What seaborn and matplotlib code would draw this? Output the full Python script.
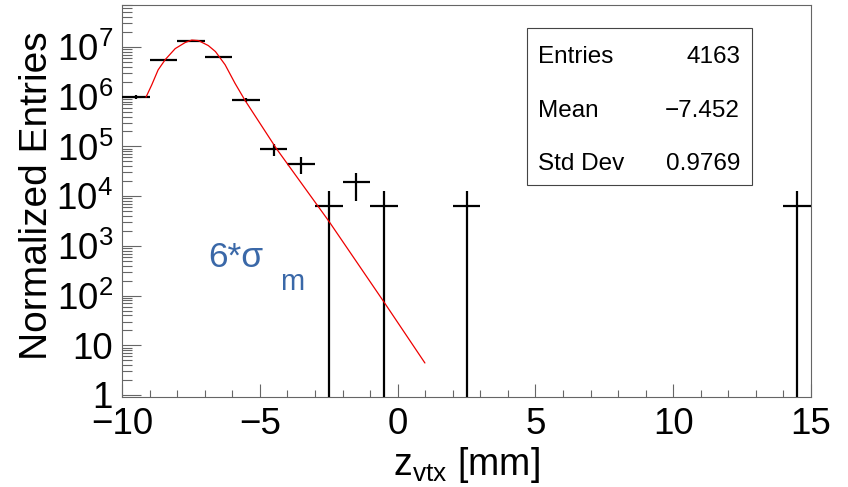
import numpy as np
import matplotlib
matplotlib.use("Agg")
import matplotlib.pyplot as plt
import seaborn as sns
from matplotlib.ticker import MultipleLocator, LogLocator, NullFormatter, FuncFormatter
from matplotlib.patches import Rectangle

# ---- data ----
bin_centers = [-9.5, -8.5, -7.5, -6.5, -5.5, -4.5, -3.5, -2.5, -1.5, -0.5, 2.5, 14.5]
bin_counts = [158, 881, 2060, 998, 136, 14, 7, 1, 3, 1, 1, 1]
norm_per_entry = 6310
bin_width = 1.0

fit_x = [-9.13, -8.92, -8.69, -8.43, -8.07, -7.71, -7.47, -7.23, -6.87, -6.61,
         -6.26, -5.90, -5.54, -4.39, -2.49, -0.48, 0.99]
fit_y = [9.8e5, 1.74e6, 3.47e6, 5.6e6, 9.3e6, 1.23e7, 1.38e7, 1.35e7, 1.07e7, 8.1e6,
         4.4e6, 1.86e6, 8.5e5, 8.9e4, 3.1e3, 72, 4.4]

stats_labels = ["Entries", "Mean", "Std Dev"]
stats_values = ["4163", "\u22127.452", "0.9769"]

x_label = r"$\mathregular{z_{vtx}}$ [mm]"
y_label = "Normalized Entries"
annot_main = "6*\u03c3"
annot_sub = "m"

# ---- style ----
sns.set_theme(style="ticks")
plt.rcParams.update({
    "font.family": ["Liberation Sans", "DejaVu Sans"],
    "mathtext.fontset": "custom",
    "mathtext.rm": "Liberation Sans",
    "mathtext.it": "Liberation Sans",
    "mathtext.bf": "Liberation Sans:bold",
    "axes.unicode_minus": True,
    "text.color": "black",
    "axes.labelcolor": "black",
    "xtick.labelcolor": "black",
    "ytick.labelcolor": "black",
})

fig = plt.figure(figsize=(8.48, 4.87), dpi=100, facecolor="white")
ax = fig.add_axes([0.1439, 0.1848, 0.8125, 0.8049])
ax.set_facecolor("white")
ax.set_yscale("log")
ax.set_xlim(-10, 15)
ax.set_ylim(0.91, 7.0e7)

counts = np.array(bin_counts, dtype=float)
vals = counts * norm_per_entry
errs = np.sqrt(counts) * norm_per_entry
lower = np.minimum(errs, vals - 0.1)

ax.errorbar(bin_centers, vals, xerr=bin_width / 2, yerr=[lower, errs], fmt="none",
            ecolor="black", elinewidth=1.6, capsize=0, zorder=3)

sns.lineplot(x=fit_x, y=fit_y, ax=ax, color="#ee0000", linewidth=0.9, zorder=4,
             sort=False, estimator=None)

# ticks
frame_col = "#666666"
ax.xaxis.set_major_locator(MultipleLocator(5))
ax.xaxis.set_minor_locator(MultipleLocator(1))
ax.yaxis.set_major_locator(LogLocator(base=10, numticks=20))
ax.yaxis.set_minor_locator(LogLocator(base=10, subs=np.arange(2, 10), numticks=20))
ax.yaxis.set_minor_formatter(NullFormatter())


def yfmt(v, p):
    e = int(round(np.log10(v)))
    if e == 0:
        return "1"
    if e == 1:
        return "10"
    return r"$\mathregular{10^{%d}}$" % e


ax.yaxis.set_major_formatter(FuncFormatter(yfmt))

ax.tick_params(axis="x", which="major", direction="in", length=9.1, width=0.8,
               color=frame_col, labelcolor="black", labelsize=26.5, pad=7.5, top=False)
ax.tick_params(axis="x", which="minor", direction="in", length=4.8, width=0.8,
               color=frame_col, top=False)
ax.tick_params(axis="y", which="major", direction="in", length=13.5, width=0.8,
               color=frame_col, labelcolor="black", labelsize=26.5, pad=6.5, right=False)
ax.tick_params(axis="y", which="minor", direction="in", length=7, width=0.8,
               color=frame_col, right=False)
for s in ax.spines.values():
    s.set_color(frame_col)
    s.set_linewidth(0.8)
    s.set_visible(True)

ax.set_xlabel(x_label, fontsize=27, va="baseline", color="black")
ax.xaxis.set_label_coords(0.5, -0.199)
ax.set_ylabel(y_label, fontsize=28, color="black")
ax.yaxis.set_label_coords(-0.097, 0.514)

# stats box
ax.add_patch(Rectangle((0.588, 0.541), 0.3266, 0.400, transform=ax.transAxes,
                       facecolor="white", edgecolor="#444444", linewidth=0.8, zorder=5))
row_y = [0.851, 0.715, 0.579]
for lab, val, yy in zip(stats_labels, stats_values, row_y):
    ax.text(0.6038, yy, lab, transform=ax.transAxes, ha="left", va="baseline",
            fontsize=17.5, color="black", zorder=6)
    ax.text(0.897, yy, val, transform=ax.transAxes, ha="right", va="baseline",
            fontsize=17.5, color="black", zorder=6)

# annotation
ax.text(0.1248, 0.3316, annot_main, transform=ax.transAxes, ha="left", va="baseline",
        fontsize=25.5, color="#3A68A8")
ax.text(0.2293, 0.273, annot_sub, transform=ax.transAxes, ha="left", va="baseline",
        fontsize=21, color="#3A68A8")

fig.savefig("out.png", dpi=100, facecolor="white")
